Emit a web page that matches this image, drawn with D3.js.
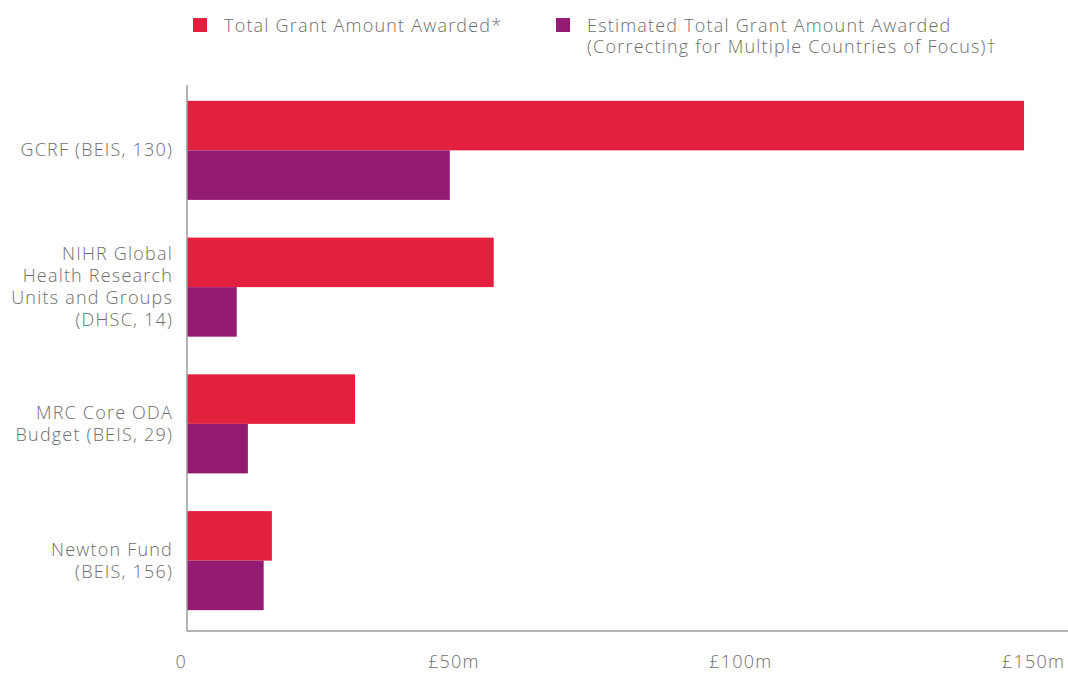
<!DOCTYPE html>
<html lang="en">
<head>
    <meta charset="UTF-8">
    <title>Grant Amount Awarded by Fund</title>
    <script src="https://d3js.org/d3.v7.min.js"></script>
    <style>
        body {
            margin: 0;
            background-color: #ffffff;
            font-family: "Open Sans", "Lato", sans-serif;
        }

        svg {
            display: block;
        }

        .label {
            fill: #6e6e6e;
            font-size: 18px;
            font-weight: 300;
            letter-spacing: 1.2px;
        }

        .axis-line {
            stroke: #9a9a9a;
            stroke-width: 1.5;
        }
    </style>
</head>
<body>

<svg width="1068" height="673"></svg>

<script>
    // Data
    const categories = [
        ["GCRF (BEIS, 130)"],
        ["NIHR Global", "Health Research", "Units and Groups", "(DHSC, 14)"],
        ["MRC Core ODA", "Budget (BEIS, 29)"],
        ["Newton Fund", "(BEIS, 156)"]
    ];
    const totalAwarded = [143.0, 52.4, 28.7, 14.5];
    const estimatedAwarded = [44.9, 8.5, 10.4, 13.1];
    const tickValues = [0, 50, 100, 150];
    const tickLabels = ["0", "£50m", "£100m", "£150m"];
    const seriesNames = [
        ["Total Grant Amount Awarded*"],
        ["Estimated Total Grant Amount Awarded", "(Correcting for Multiple Countries of Focus)\u2020"]
    ];
    const seriesColors = ["#e3203d", "#931c72"];

    const svg = d3.select("svg");

    const axisTop = 85;
    const axisBottom = 631;
    const axisLeft = 187;

    // X scale (linear)
    const xScale = d3.scaleLinear()
        .domain([0, 150])
        .range([axisLeft, 1065]);

    // Y scale (band, one per fund)
    const yScale = d3.scaleBand()
        .domain(d3.range(categories.length))
        .range([82, 629])
        .paddingInner(0.2756)
        .paddingOuter(0.1378);

    // sub band for the two series
    const ySub = d3.scaleBand()
        .domain([0, 1])
        .range([0, yScale.bandwidth()]);

    const rows = categories.map((c, i) => ({
        i: i,
        values: [totalAwarded[i], estimatedAwarded[i]]
    }));

    const groups = svg.selectAll("g.group")
        .data(rows)
        .enter()
        .append("g")
        .attr("class", "group")
        .attr("transform", d => `translate(0, ${yScale(d.i)})`);

    groups.selectAll("rect")
        .data(d => d.values)
        .enter()
        .append("rect")
        .attr("x", xScale(0))
        .attr("y", (d, j) => ySub(j))
        .attr("width", d => xScale(d) - xScale(0))
        .attr("height", ySub.bandwidth())
        .attr("fill", (d, j) => seriesColors[j]);

    // Axis lines
    svg.append("line")
        .attr("class", "axis-line")
        .attr("x1", axisLeft).attr("x2", axisLeft)
        .attr("y1", axisTop).attr("y2", axisBottom);

    svg.append("line")
        .attr("class", "axis-line")
        .attr("x1", axisLeft).attr("x2", 1068)
        .attr("y1", axisBottom).attr("y2", axisBottom);

    // X tick labels (right aligned to the tick)
    svg.selectAll("text.xtick")
        .data(tickValues)
        .enter()
        .append("text")
        .attr("class", "label xtick")
        .attr("x", d => xScale(d))
        .attr("y", 668)
        .attr("text-anchor", "end")
        .text((d, i) => tickLabels[i]);

    // Y category labels
    const lineHeight = 22;
    svg.selectAll("text.ycat")
        .data(categories)
        .enter()
        .append("text")
        .attr("class", "label ycat")
        .attr("text-anchor", "end")
        .each(function (lines, i) {
            const cy = yScale(i) + yScale.bandwidth() / 2;
            const firstY = cy - (lines.length - 1) * lineHeight / 2 + 6;
            d3.select(this).selectAll("tspan")
                .data(lines)
                .enter()
                .append("tspan")
                .attr("x", 173)
                .attr("y", (l, k) => firstY + k * lineHeight)
                .text(l => l);
        });

    // Legend
    const legendX = [193, 556];
    const legend = svg.selectAll("g.legend")
        .data(seriesNames)
        .enter()
        .append("g")
        .attr("class", "legend")
        .attr("transform", (d, i) => `translate(${legendX[i]}, 18)`);

    legend.append("rect")
        .attr("width", 14)
        .attr("height", 14)
        .attr("fill", (d, i) => seriesColors[i]);

    legend.append("text")
        .attr("class", "label")
        .selectAll("tspan")
        .data(d => d)
        .enter()
        .append("tspan")
        .attr("x", 31)
        .attr("y", (l, k) => 14 + k * 21)
        .text(l => l);
</script>

</body>
</html>
